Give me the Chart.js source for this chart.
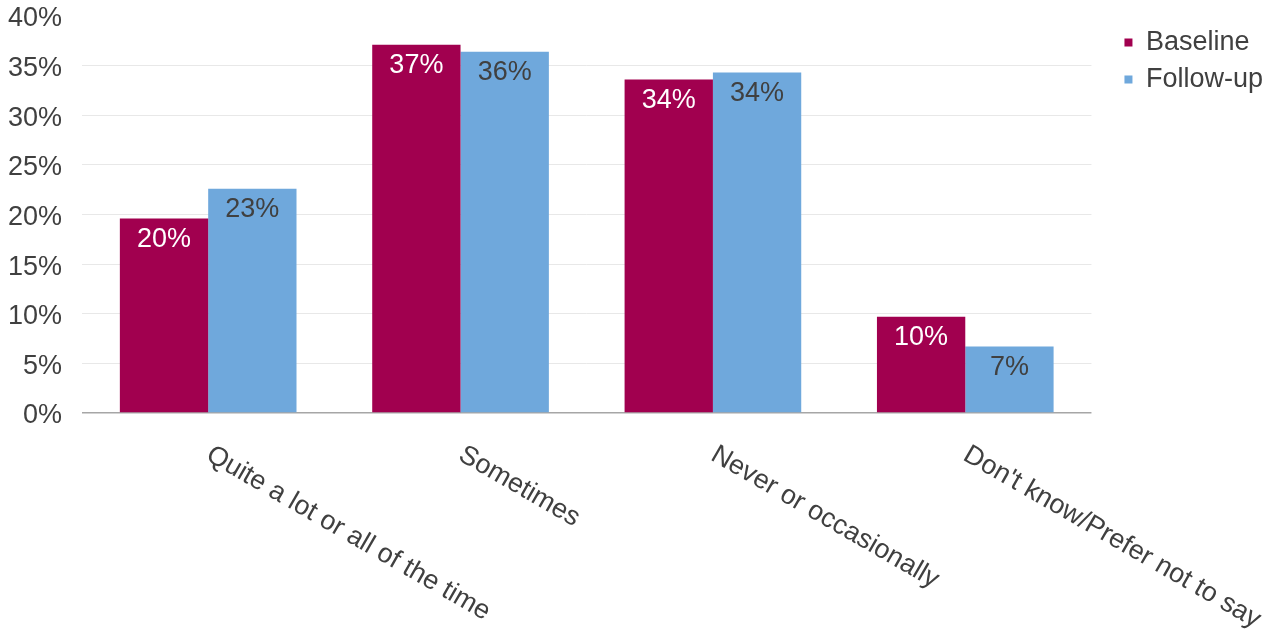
<!DOCTYPE html>
<html>
<head>
<meta charset="utf-8">
<title>Baseline vs follow-up</title>
<script src="https://cdn.jsdelivr.net/npm/chart.js@4/dist/chart.umd.min.js"></script>
<style>
  html, body { margin: 0; padding: 0; background: #fff; }
  #wrap { width: 1281px; height: 633px; }
</style>
</head>
<body>
<div id="wrap"><canvas id="surveyChart"></canvas></div>
<script>
const categories = [
    'Quite a lot or all of the time',
    'Sometimes',
    'Never or occasionally',
    "Don't know/Prefer not to say"
];
const baseline = [19.6, 37.1, 33.6, 9.7];
const followUp = [22.6, 36.4, 34.3, 6.7];
const yTickValues = [0, 5, 10, 15, 20, 25, 30, 35, 40];

const FONT = '"Liberation Sans", Arial, sans-serif';
const TEXT = '#404040';

// percentage labels just inside the top of each bar
const barLabels = {
    id: 'barLabels',
    afterDatasetsDraw(chart) {
        const ctx = chart.ctx;
        const colours = ['#ffffff', TEXT];
        ctx.save();
        ctx.font = '27px ' + FONT;
        ctx.textAlign = 'center';
        ctx.textBaseline = 'middle';
        chart.data.datasets.forEach((ds, d) => {
            chart.getDatasetMeta(d).data.forEach((bar, i) => {
                ctx.fillStyle = colours[d];
                ctx.fillText(Math.round(ds.data[i]) + '%', bar.x, bar.y + 21);
            });
        });
        ctx.restore();
    }
};

// slanted category names under the axis, starting at each tick
const slantedLabels = {
    id: 'slantedLabels',
    afterDraw(chart) {
        const ctx = chart.ctx;
        const xs = chart.scales.x;
        ctx.save();
        ctx.font = '27px ' + FONT;
        ctx.fillStyle = TEXT;
        ctx.textAlign = 'left';
        ctx.textBaseline = 'top';
        categories.forEach((name, i) => {
            ctx.save();
            ctx.translate(xs.getPixelForTick(i) + 7, chart.chartArea.bottom + 28);
            ctx.rotate(30 * Math.PI / 180);
            ctx.fillText(name, 0, 0);
            ctx.restore();
        });
        ctx.restore();
    }
};

const ctx = document.getElementById('surveyChart').getContext('2d');

let surveyChart = new Chart(ctx, {
    type: 'bar',
    data: {
        labels: categories,
        datasets: [
            {
                label: 'Baseline',
                data: baseline,
                backgroundColor: '#A1004F',
                borderWidth: 0
            },
            {
                label: 'Follow-up',
                data: followUp,
                backgroundColor: '#6FA8DC',
                borderWidth: 0
            }
        ]
    },
    options: {
        responsive: true,
        maintainAspectRatio: false,
        animation: false,
        devicePixelRatio: 1,
        layout: { padding: { right: 8 } },
        datasets: {
            bar: { categoryPercentage: 0.7, barPercentage: 1.0 }
        },
        plugins: {
            legend: {
                position: 'right',
                align: 'start',
                // blank title only pushes the entries down a little
                title: {
                    display: true,
                    text: ' ',
                    font: { size: 1, lineHeight: 1 },
                    padding: { top: 18, bottom: 0 }
                },
                labels: {
                    boxWidth: 8,
                    boxHeight: 8,
                    padding: 10,
                    color: TEXT,
                    font: { family: FONT, size: 27, lineHeight: 1.0 }
                }
            },
            tooltip: { enabled: false }
        },
        scales: {
            x: {
                grid: { display: false },
                border: { display: false },
                ticks: { display: false },
                afterFit(scale) { scale.height = 220; }
            },
            y: {
                min: 0,
                max: 40,
                afterBuildTicks(scale) {
                    scale.ticks = yTickValues.map(v => ({ value: v }));
                },
                ticks: {
                    padding: 20,
                    labelOffset: 3,
                    color: TEXT,
                    font: { family: FONT, size: 27 },
                    callback: v => v + '%'
                },
                grid: {
                    drawTicks: false,
                    color: c => c.tick.value === 0 ? '#a6a6a6'
                        : (c.tick.value === 40 ? 'rgba(0,0,0,0)' : '#e8e8e8'),
                    lineWidth: c => c.tick.value === 0 ? 1.5 : 1
                },
                border: { display: false },
                afterFit(scale) {
                    scale.width = 82;
                    scale.paddingTop = 16;
                    scale.paddingBottom = 0;
                }
            },
            // empty strip between the plot and the legend
            gap: {
                type: 'linear',
                position: 'right',
                grid: { display: false },
                border: { display: false },
                ticks: { display: false },
                afterFit(scale) { scale.width = 23; }
            }
        }
    },
    plugins: [barLabels, slantedLabels]
});
</script>
</body>
</html>
